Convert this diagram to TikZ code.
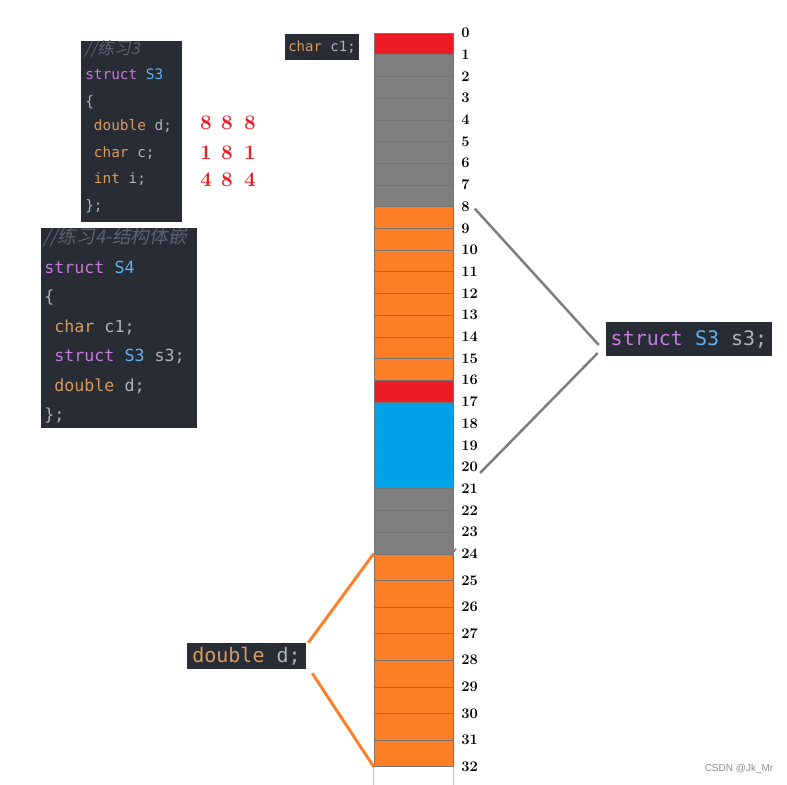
\documentclass[tikz,border=0pt]{standalone}
\usepackage{fontspec}
\setmonofont{DejaVu Sans Mono}
\newfontfamily\cjkfont[FakeSlant=0.2]{Noto Sans CJK SC}
\newfontfamily\wmfont{Liberation Sans}
\usetikzlibrary{calc}
\definecolor{codebg}{HTML}{282C34}
\definecolor{kwpurple}{HTML}{C678DD}
\definecolor{clsblue}{HTML}{61AFEF}
\definecolor{typorange}{HTML}{D8995C}
\definecolor{varsilver}{HTML}{ABB2BF}
\definecolor{cmtgray}{HTML}{5C6370}
\definecolor{memred}{HTML}{ED1C24}
\definecolor{memgray}{HTML}{7F7F7F}
\definecolor{memorange}{HTML}{FF7F27}
\definecolor{memblue}{HTML}{00A2E8}
\newcommand\pxu{0.75pt}
\newcommand\ckw[1]{\textcolor{kwpurple}{#1}}
\newcommand\ccls[1]{\textcolor{clsblue}{#1}}
\newcommand\ctyp[1]{\textcolor{typorange}{#1}}
\newcommand\cvar[1]{\textcolor{varsilver}{#1}}
\newcommand\ccmt[1]{\textcolor{cmtgray}{\cjkfont #1}}
\newcommand\csp{\hphantom{x}}

\begin{document}
\begin{tikzpicture}[
    x=0.75pt, y=-0.75pt,
    codebox/.style={fill=codebg, inner sep=0, anchor=north west},
    codeline/.style={anchor=west, inner sep=0, text height=0.75em, text depth=0.2em},
    smallcode/.style={codeline, font=\fontsize{10.8}{12}\selectfont\ttfamily},
    midcode/.style={codeline, font=\fontsize{12.5}{14}\selectfont\ttfamily},
    cell/.style={draw=black!55, line width=0.35pt, inner sep=0, minimum width=79*\pxu},
    addr/.style={anchor=west, inner sep=0, font=\fontsize{11}{13}\selectfont\bfseries},
    sizenum/.style={inner sep=0, text=memred, font=\fontsize{15.5}{17}\selectfont\bfseries},
    tag/.style={fill=codebg, inner sep=0, font=\fontsize{15}{18}\selectfont\ttfamily},
    s3link/.style={memgray, line width=1.9pt},
    dlink/.style={memorange, line width=2.2pt},
  ]
    \useasboundingbox (0,0) rectangle (787,784);

    % --- struct S3 code ---
    \begin{scope}
      \clip (81,41) rectangle (182,222);
      \node[codebox, minimum width=101*\pxu, minimum height=181*\pxu] (boxS3) at (81,41) {};
      \node[codeline, font=\fontsize{12.5}{14}\selectfont] (s3cmt) at (84,51) {\ccmt{//练习3}};
      \foreach \ly/\ln in {76/{\ckw{struct} \ccls{S3}}, 103/{\cvar{\{}},
          127/{\csp\ctyp{double} \cvar{d;}}, 154/{\csp\ctyp{char} \cvar{c;}},
          180/{\csp\ctyp{int} \cvar{i;}}, 207/{\cvar{\};}}}
        \node[smallcode] (s3l\ly) at (85,\ly) {\ln};
    \end{scope}

    % --- sizes / align / offset ---
    \foreach \ry/\a/\b/\c in {123/8/8/8, 153/1/8/1, 180/4/8/4} {
      \node[sizenum] (sza\ry) at (206,\ry) {\a};
      \node[sizenum] (szb\ry) at (227,\ry) {\b};
      \node[sizenum] (szc\ry) at (250,\ry) {\c};
    }

    % --- struct S4 code ---
    \begin{scope}
      \clip (41,228) rectangle (197,428);
      \node[codebox, minimum width=156*\pxu, minimum height=200*\pxu] (boxS4) at (41,228) {};
      \node[codeline, font=\fontsize{14}{16}\selectfont] (s4cmt) at (43,240) {\ccmt{//练习4-结构体嵌}};
      \foreach \ly/\ln in {270/{\ckw{struct} \ccls{S4}}, 299/{\cvar{\{}},
          329/{\csp\ctyp{char} \cvar{c1;}}, 358/{\csp\ckw{struct} \ccls{S3} \cvar{s3;}},
          388/{\csp\ctyp{double} \cvar{d;}}, 417/{\cvar{\};}}}
        \node[midcode] (s4l\ly) at (44,\ly) {\ln};
    \end{scope}

    % --- memory column ---
    \foreach \first/\last/\col in {0/0/memred, 1/7/memgray, 8/15/memorange,
        16/16/memred, 17/20/memblue, 21/23/memgray}
      \foreach \i in {\first,...,\last} {
        \pgfmathsetmacro\cy{33+21.7*\i+10.85}
        \node[cell, fill=\col, minimum height=21.7*\pxu] (c\i) at (413.5,\cy) {};
      }
    \foreach \i in {24,...,31} {
      \pgfmathsetmacro\cy{553.8+26.6*(\i-24)+13.3}
      \node[cell, fill=memorange, minimum height=26.6*\pxu] (c\i) at (413.5,\cy) {};
    }
    \draw[black!25, line width=0.5pt] (c31.south west) -- ++(0,18);
    \draw[black!25, line width=0.5pt] (c31.south east) -- ++(0,18);
    \draw[memgray, line width=1pt] ($(c24.north west)+(-1,3)$) -- ++(4,-5);
    \draw[memgray, line width=1pt] ($(c24.north east)+(-1,0)$) -- ++(4,-5);

    % --- addresses ---
    \foreach \i in {0,...,32} {
      \pgfmathsetmacro\ly{\i<25 ? 33+21.7*\i : 553.8+26.6*(\i-24)}
      \node[addr] (lbl\i) at (461,\ly) {\i};
    }

    % --- member tags ---
    \node[tag, font=\fontsize{10.5}{12}\selectfont\ttfamily,
          minimum width=74*\pxu, minimum height=26*\pxu] (c1tag) at (322,47) {\ctyp{char} \cvar{c1;}};
    \node[tag, minimum width=166*\pxu, minimum height=34*\pxu] (s3tag) at (689,339)
      {\ckw{struct} \ccls{S3} \cvar{s3;}};
    \node[tag, minimum width=119*\pxu, minimum height=26*\pxu] (dtag) at (246.5,656)
      {\ctyp{double} \cvar{d;}};

    % --- links ---
    \draw[s3link] ($(lbl8.east)+(5,2)$) -- ($(s3tag.west)+(-7,6)$);
    \draw[s3link] ($(s3tag.west)+(-8,14)$) -- ($(lbl20.east)+(2,6)$);
    \draw[dlink] ($(dtag.north east)+(2,0)$) -- (c24.north west);
    \draw[dlink] ($(dtag.south east)+(6,4)$) -- (c31.south west);

    \node[inner sep=0, text=black!45, font=\wmfont\fontsize{7.5}{9}\selectfont] (mark) at (739,769) {CSDN @Jk\_Mr};
  \end{tikzpicture}
\end{document}
